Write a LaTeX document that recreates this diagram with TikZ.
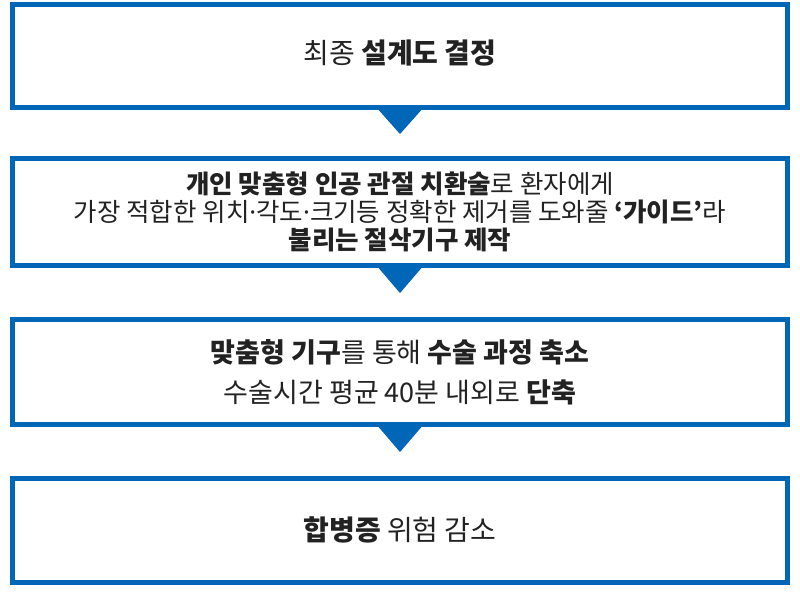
\documentclass[tikz,border=0pt]{standalone}
\usepackage{fontspec}
\setmainfont{Noto Sans CJK KR}
\newfontfamily\dotfont{Noto Sans}
\newcommand{\md}{{\dotfont ·}}
\definecolor{bblue}{HTML}{0066B8}
\definecolor{txt}{HTML}{222222}
\begin{document}
\begin{tikzpicture}[x=1pt,y=-1pt,
  box/.style={draw=bblue,line width=5pt,fill=white},
  tri/.style={fill=bblue,draw=none},
  lbl/.style={align=center,text=txt,font=\fontsize{27}{40}\selectfont}]
\useasboundingbox (0,0) rectangle (800,594);
\draw[box] (12.5,4.5) rectangle (787.5,107.5);
\draw[box] (12.5,158.5) rectangle (787.5,265.5);
\draw[box] (12.5,319.5) rectangle (787.5,424.5);
\draw[box] (12.5,478.5) rectangle (787.5,582.5);
\node[lbl,font=\fontsize{28}{40}\selectfont] (t1) at (400,53) {최종 \textbf{설계도 결정}};
\node[lbl,font=\fontsize{25.5}{28}\selectfont] (t2) at (400,212) {\textbf{개인 맞춤형 인공 관절 치환술}로 환자에게\\가장 적합한 위치\md 각도\md 크기등 정확한 제거를 도와줄 \textbf{‘가이드’}라\\\textbf{불리는 절삭기구 제작}};
\node[lbl] (t3) at (400,372) {\textbf{맞춤형 기구}를 통해 \textbf{수술 과정 축소}\\수술시간 평균 40분 내외로 \textbf{단축}};
\node[lbl,font=\fontsize{28}{40}\selectfont] (t4) at (400,530) {\textbf{합병증} 위험 감소};
\fill[tri] (376,107) -- (424,107) -- (400,134) -- cycle;
\fill[tri] (376,265) -- (424,265) -- (400,293) -- cycle;
\fill[tri] (376,424) -- (424,424) -- (400,452) -- cycle;
\end{tikzpicture}
\end{document}
